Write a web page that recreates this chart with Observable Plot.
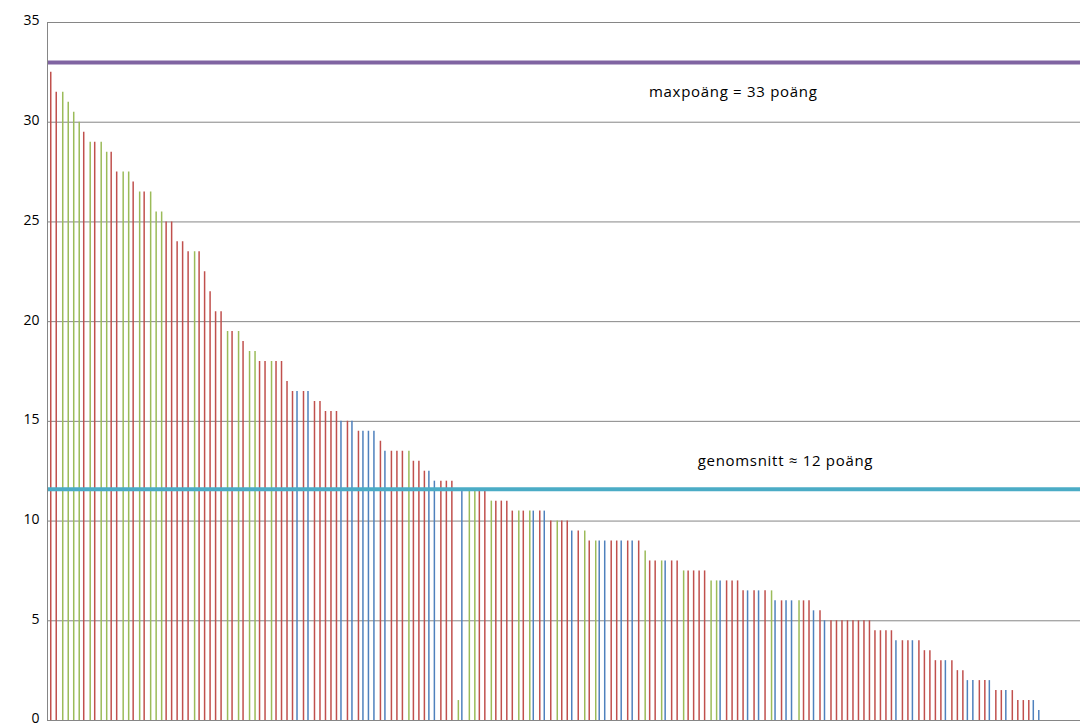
<!DOCTYPE html>
<html><head><meta charset="utf-8">
<script src="https://cdn.jsdelivr.net/npm/d3@7"></script>
<script src="https://cdn.jsdelivr.net/npm/@observablehq/plot@0.6"></script>
<style>body{margin:0;background:#fff} svg{display:block} .note text{letter-spacing:0.7px}</style>
</head><body><div id="chart"></div>
<script>
// score of each participant, in chart order
const scores = [
  32.5,31.5,31.5,31,30.5,30,29.5,29,29,29,28.5,28.5,27.5,27.5,27.5,27,
  26.5,26.5,26.5,25.5,25.5,25,25,24,24,23.5,23.5,23.5,22.5,21.5,20.5,
  20.5,19.5,19.5,19.5,19,18.5,18.5,18,18,18,18,18,17,16.5,16.5,16.5,
  16.5,16,16,15.5,15.5,15.5,15,15,15,14.5,14.5,14.5,14.5,14,13.5,
  13.5,13.5,13.5,13.5,13,13,12.5,12.5,12,12,12,12,1,11.5,11.5,
  11.5,11.5,11.5,11,11,11,11,10.5,10.5,10.5,10.5,10.5,10.5,10.5,10,10,
  10,10,9.5,9.5,9.5,9,9,9,9,9,9,9,9,9,9,8.5,
  8,8,8,8,8,8,7.5,7.5,7.5,7.5,7.5,7,7,7,7,
  7,7,6.5,6.5,6.5,6.5,6.5,6.5,6,6,6,6,6,6,6,5.5,
  5.5,5,5,5,5,5,5,5,5,5,4.5,4.5,4.5,4.5,4,
  4,4,4,4,3.5,3.5,3,3,3,3,2.5,2.5,2,2,2,2,
  2,1.5,1.5,1.5,1.5,1,1,1,1,0.5
];
// series of each bar: R = red series, G = green series, B = blue series
const series = [
  "R","R","G","G","G","G","R","G","R","G","G","R","R","G","G","R",
  "G","R","G","G","G","R","R","R","R","R","G","R","R","R","R",
  "R","G","R","G","R","G","G","R","R","G","R","R","R","R","B","R",
  "B","R","R","R","R","R","B","R","B","R","B","B","B","R","B",
  "R","R","R","G","R","R","R","B","B","R","R","R","G","B","G",
  "G","R","R","G","R","R","R","R","G","R","G","B","R","B","R","G",
  "R","R","B","R","G","R","G","B","B","R","R","B","R","B","R","G",
  "R","R","G","B","R","R","G","R","R","R","R","G","G","B","R",
  "R","R","R","B","R","B","R","G","B","R","B","B","G","R","R","B",
  "R","B","R","R","R","R","R","R","R","R","R","R","R","R","B",
  "R","R","B","R","R","R","R","R","B","R","R","R","B","B","R","R",
  "B","R","R","B","R","R","R","R","B","B"
];
const seriesNames = ["B","R","G"];
const seriesColors = ["#4F81BD","#C0504D","#9BBB59"];
const yTicks = [0,5,10,15,20,25,30,35];
const maxScore = 33;
const averageScore = 11.6;
const maxLabel = "maxpoäng = 33 poäng";
const avgLabel = "genomsnitt ≈ 12 poäng";
const totalSlots = 188;

const data = scores.map((v, i) => ({slot: i + 0.5, score: v, series: series[i]}));
const offsets = {B: -0.5, R: 0.5, G: 1.5};

const barMarks = seriesNames.map((s, k) =>
  Plot.ruleX(data.filter(d => d.series === s), {
    x: "slot", y1: 0, y2: "score",
    stroke: seriesColors[k], strokeWidth: 1.5, dx: offsets[s]
  })
);

const chart = Plot.plot({
  width: 1081, height: 725,
  marginLeft: 47, marginRight: 1, marginTop: 22, marginBottom: 5,
  style: {fontFamily: "'Open Sans', sans-serif", background: "#fff"},
  x: {domain: [0, totalSlots], axis: null},
  y: {domain: [0, 35], axis: null},
  marks: [
    Plot.ruleY(yTicks, {stroke: "#868686", strokeWidth: 1}),
    ...barMarks,
    Plot.ruleY([maxScore], {stroke: "#8064A2", strokeWidth: 4}),
    Plot.ruleY([averageScore], {stroke: "#4BACC6", strokeWidth: 4}),
    Plot.ruleX([0], {stroke: "#868686", strokeWidth: 1}),
    Plot.text([maxLabel], {x: 124.8, y: maxScore - 1.5, text: d => d, fontSize: 15, fill: "#000", className: "note"}),
    Plot.text([avgLabel], {x: 134.3, y: averageScore + 1.4, text: d => d, fontSize: 15, fill: "#000", className: "note"}),
    Plot.axisY({ticks: yTicks, tickSize: 0, tickPadding: 8, fontSize: 14, fill: "#000", label: null, dy: -1.5})
  ]
});
document.getElementById("chart").appendChild(chart);
</script>
</body></html>
